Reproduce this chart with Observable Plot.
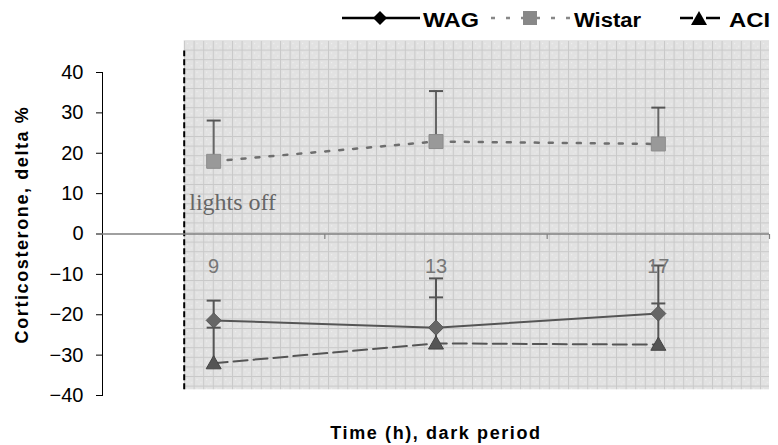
<!DOCTYPE html>
<html>
<head>
<meta charset="utf-8">
<script src="https://cdn.jsdelivr.net/npm/d3@7"></script>
<script src="https://cdn.jsdelivr.net/npm/@observablehq/plot@0.6"></script>
<style>
  html, body { margin: 0; padding: 0; background: #fff; }
  #wrap { position: relative; width: 778px; height: 445px; font-family: "Liberation Sans", Arial, sans-serif; }
  #legend { position: absolute; left: 0; top: 0; z-index: 2; }
</style>
</head>
<body>
<div id="wrap">
<svg id="legend" width="778" height="36" font-family="Liberation Sans, Arial, sans-serif">
  <line x1="342" x2="420" y1="18" y2="18" stroke="#000" stroke-width="2.5"/>
  <path d="M380,11 L387,18 L380,25 L373,18Z" fill="#000"/>
  <text x="423" y="27" font-size="20" font-weight="bold" textLength="56" lengthAdjust="spacingAndGlyphs">WAG</text>
  <line x1="491" x2="570" y1="18" y2="18" stroke="#888" stroke-width="2.5" stroke-dasharray="4,11"/>
  <rect x="523" y="11" width="14" height="14" fill="#888"/>
  <text x="574" y="27" font-size="20" font-weight="bold" textLength="67" lengthAdjust="spacingAndGlyphs">Wistar</text>
  <line x1="680" x2="693" y1="18" y2="18" stroke="#000" stroke-width="2.5"/>
  <path d="M699,11 L707,25 L691,25Z" fill="#000"/>
  <line x1="706" x2="720" y1="18" y2="18" stroke="#000" stroke-width="2.5"/>
  <text x="729" y="27" font-size="20" font-weight="bold" textLength="41" lengthAdjust="spacingAndGlyphs">ACI</text>
</svg>
<div id="chart"></div>
</div>
<script>
// ---- data ----
const times = [9, 13, 17];
const wag = [-21.4, -23.2, -19.7];
const wagErrTop = [-16.5, -15.7, -17.2];
const wistar = [18, 22.9, 22.3];
const wistarErrTop = [28.1, 35.4, 31.3];
const aci = [-32, -27.1, -27.4];
const aciErrTop = [-23.2, -11, -7.8];
const yTicks = [-40, -30, -20, -10, 0, 10, 20, 30, 40];
const xDomain = [7, 19];
const zeroTicks = [11, 15, 19];
const lightsOff = 8.47;        // start of dark period
const darkEnd = 19;
const shadeY = [-38.6, 47.8];  // extent of the shaded plot area
const dashTop = 45.3;
const lightsOffLabelY = 7.8;
const yLabel = "Corticosterone, delta %";
const xLabel = "Time (h), dark period";

const rows = (vals, errs) => times.map((t, i) => ({t, v: vals[i], e: errs[i]}));
const wagRows = rows(wag, wagErrTop);
const wistarRows = rows(wistar, wistarErrTop);
const aciRows = rows(aci, aciErrTop);

// ---- custom symbols ----
const rad = size => Math.sqrt(size / Math.PI);
const diamondSym = {draw(c, s) {const r = rad(s); c.moveTo(0, -r); c.lineTo(r, 0); c.lineTo(0, r); c.lineTo(-r, 0); c.closePath();}};
const squareSym = {draw(c, s) {const r = rad(s); c.moveTo(-r, -r); c.lineTo(r, -r); c.lineTo(r, r); c.lineTo(-r, r); c.closePath();}};
const triSym = {draw(c, s) {const r = rad(s); c.moveTo(0, -r); c.lineTo(r, r * 0.75); c.lineTo(-r, r * 0.75); c.closePath();}};
const capSym = {draw(c, s) {const r = rad(s); c.moveTo(-r, 0); c.lineTo(r, 0);}};
const tickDownSym = {draw(c, s) {const r = rad(s); c.moveTo(0, 0); c.lineTo(0, r);}};

const errColor = "#555";

const chart = Plot.plot({
  width: 778,
  height: 445,
  marginLeft: 102,
  marginRight: 9,
  marginTop: 72,
  marginBottom: 50,
  style: {fontFamily: "Liberation Sans, Arial, sans-serif", fontSize: "20px", background: "transparent", color: "#000"},
  x: {domain: xDomain, axis: null},
  y: {domain: [-40, 40], ticks: yTicks, tickSize: 6, tickPadding: 13, label: null, line: true},
  marks: [
    Plot.rect([0], {x1: lightsOff, x2: darkEnd, y1: shadeY[0], y2: shadeY[1], fill: "url(#excelGrid)"}),
    Plot.ruleX([lightsOff], {y1: shadeY[0], y2: dashTop, stroke: "#000", strokeWidth: 2, strokeDasharray: "6,3"}),
    Plot.ruleY([0], {stroke: "#808080", strokeWidth: 1.5}),
    Plot.dot(zeroTicks, {x: d => d, y: 0, symbol: tickDownSym, r: 5, stroke: "#808080", strokeWidth: 1.2, fill: "none"}),
    // connecting lines
    Plot.line(wistarRows, {x: "t", y: "v", stroke: "#6e6e6e", strokeWidth: 2.5, strokeDasharray: "4,10"}),
    Plot.line(wagRows, {x: "t", y: "v", stroke: "#555", strokeWidth: 2}),
    Plot.line(aciRows, {x: "t", y: "v", stroke: "#555", strokeWidth: 2, strokeDasharray: "14,6"}),
    // error bars
    Plot.ruleX(wistarRows, {x: "t", y1: "v", y2: "e", stroke: "#666", strokeWidth: 2}),
    Plot.dot(wistarRows, {x: "t", y: "e", symbol: capSym, r: 7, stroke: "#555", strokeWidth: 2, fill: "none"}),
    Plot.ruleX(wagRows, {x: "t", y1: "v", y2: "e", stroke: errColor, strokeWidth: 2}),
    Plot.dot(wagRows, {x: "t", y: "e", symbol: capSym, r: 7, stroke: errColor, strokeWidth: 2, fill: "none"}),
    Plot.ruleX(aciRows, {x: "t", y1: "v", y2: "e", stroke: errColor, strokeWidth: 2}),
    Plot.dot(aciRows, {x: "t", y: "e", symbol: capSym, r: 7, stroke: errColor, strokeWidth: 2, fill: "none"}),
    // markers
    Plot.dot(wistarRows, {x: "t", y: "v", symbol: squareSym, r: 7, fill: "#999", stroke: "#8c8c8c", strokeWidth: 1}),
    Plot.dot(wagRows, {x: "t", y: "v", symbol: diamondSym, r: 7.5, fill: "#666", stroke: "#555", strokeWidth: 1}),
    Plot.dot(aciRows, {x: "t", y: "v", symbol: triSym, r: 7.5, fill: "#555", stroke: "#444", strokeWidth: 1}),
    // time labels
    Plot.text(times, {x: d => d, frameAnchor: "middle", dy: 33, text: d => String(d), fontSize: 20, fill: "#777"}),
    // lights off
    Plot.text([lightsOff], {x: d => d, y: lightsOffLabelY, text: () => "lights off", textAnchor: "start", dx: 5, fontFamily: "Liberation Serif, Times New Roman, serif", fontSize: 24, fill: "#666"}),
    // axis titles
    Plot.text([yLabel], {frameAnchor: "left", textAnchor: "middle", lineAnchor: "middle", dx: -80, dy: -9.5, rotate: -90, text: d => d, fontWeight: "bold", fontSize: 18, fill: "#000"}),
    Plot.text([xLabel], {frameAnchor: "bottom", lineAnchor: "middle", dy: 38, text: d => d, fontWeight: "bold", fontSize: 18, fill: "#000"})
  ]
});

// pattern for the Excel-like gridded background
const ns = "http://www.w3.org/2000/svg";
const defs = document.createElementNS(ns, "defs");
defs.innerHTML = `
<pattern id="excelGrid" patternUnits="userSpaceOnUse" x="184" y="40" width="9.6" height="9.6">
  <rect width="9.6" height="9.6" fill="#e2e2e2"/>
  <rect x="0" y="0" width="9.6" height="1" fill="#c9c9c9"/>
  <rect x="0" y="0" width="1" height="9.6" fill="#c9c9c9"/>
  <rect x="3" y="3" width="1" height="1" fill="#f6f6f6"/>
  <rect x="7" y="6" width="1" height="1" fill="#f6f6f6"/>
  <rect x="5" y="8" width="1" height="1" fill="#eeeeee"/>
</pattern>`;
chart.insertBefore(defs, chart.firstChild);

// slightly widened bold titles
chart.querySelectorAll("text").forEach(t => {
  if (t.textContent === yLabel || t.textContent === xLabel) t.setAttribute("letter-spacing", "1.6");
});

document.getElementById("chart").appendChild(chart);
</script>
</body>
</html>
